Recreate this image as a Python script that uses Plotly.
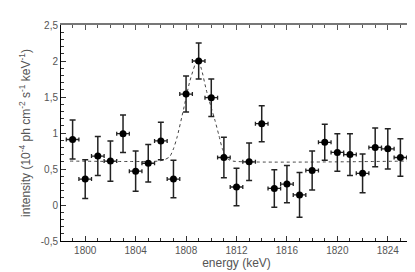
import plotly.graph_objects as go

# data
energy = [1799, 1800, 1801, 1802, 1803, 1804, 1805, 1806, 1807, 1808, 1809, 1810,
          1811, 1812, 1813, 1814, 1815, 1816, 1817, 1818, 1819, 1820, 1821, 1822,
          1823, 1824, 1825]
intensity = [0.91, 0.36, 0.68, 0.61, 0.99, 0.47, 0.58, 0.89, 0.36, 1.54, 2.00, 1.49,
             0.66, 0.25, 0.60, 1.13, 0.23, 0.29, 0.14, 0.48, 0.87, 0.73, 0.70, 0.44,
             0.80, 0.78, 0.66]
err_y = [0.27, 0.27, 0.27, 0.28, 0.26, 0.28, 0.26, 0.26, 0.26, 0.25, 0.25, 0.26,
         0.28, 0.26, 0.26, 0.25, 0.26, 0.26, 0.31, 0.27, 0.25, 0.26, 0.29, 0.27,
         0.27, 0.28, 0.26]
err_x = [0.5] * len(energy)

# dotted fit curve
fit_energy = [1798.8, 1805.8, 1806.3, 1806.7, 1807.0, 1807.3, 1807.8, 1808.3, 1808.9,
              1809.2, 1809.6, 1810.0, 1810.3, 1810.6, 1810.9, 1811.3, 1811.7, 1825.7]
fit_value = [0.61, 0.61, 0.63, 0.67, 0.78, 0.95, 1.33, 1.72, 2.02,
             1.90, 1.60, 1.35, 1.17, 0.97, 0.77, 0.64, 0.61, 0.61]

x_tickvals = [1800, 1804, 1808, 1812, 1816, 1820, 1824]
x_ticktext = ["1800", "1804", "1808", "1812", "1816", "1820", "1824"]
y_tickvals = [-0.5, 0, 0.5, 1, 1.5, 2, 2.5]
y_ticktext = ["-0,5", "0", "0,5", "1", "1,5", "2", "2,5"]

font_family = "Liberation Sans, Arial, sans-serif"

fig = go.Figure()

fig.add_trace(go.Scatter(
    x=fit_energy, y=fit_value, mode="lines",
    line=dict(color="#444444", width=1, dash="dot", shape="spline", smoothing=0.6),
    hoverinfo="skip", showlegend=False,
))

fig.add_trace(go.Scatter(
    x=energy, y=intensity, mode="markers",
    marker=dict(color="black", size=7, symbol="circle"),
    error_y=dict(type="data", array=err_y, color="#222222", thickness=1.5, width=3),
    error_x=dict(type="data", array=err_x, color="#222222", thickness=1.3, width=2),
    showlegend=False,
))

# helper trace for the grey top/right frame axes
fig.add_trace(go.Scatter(x=[1810], y=[1], xaxis="x2", yaxis="y2",
                         mode="markers", marker=dict(opacity=0),
                         hoverinfo="skip", showlegend=False))

xr = [1798.08, 1825.92]
yr = [-0.5, 2.5]

fig.update_layout(
    width=415, height=272,
    margin=dict(l=53, r=11, t=12, b=39),
    paper_bgcolor="white", plot_bgcolor="white",
    font=dict(family=font_family, color="#555555", size=10),
    xaxis=dict(
        range=xr, showgrid=False, zeroline=False,
        showline=True, linecolor="black", linewidth=1,
        ticks="inside", ticklen=5, tickwidth=1, tickcolor="#333333",
        tickvals=x_tickvals, ticktext=x_ticktext,
        tickfont=dict(size=10, color="#555555"),
        minor=dict(dtick=1, tick0=1800, ticks="inside", ticklen=3, tickcolor="#333333"),
        title=dict(text="energy (keV)", font=dict(size=12, color="#555555"), standoff=3),
    ),
    yaxis=dict(
        range=yr, showgrid=False, zeroline=False,
        showline=True, linecolor="black", linewidth=1,
        ticks="inside", ticklen=5, tickwidth=1, tickcolor="#333333",
        tickvals=y_tickvals, ticktext=y_ticktext,
        tickfont=dict(size=10, color="#555555"),
        minor=dict(dtick=0.1, tick0=0, ticks="inside", ticklen=3, tickcolor="#333333"),
        title=dict(text="intensity (10<sup>-4</sup> ph cm<sup>-2</sup> s<sup>-1</sup> keV<sup>-1</sup>)",
                   font=dict(size=12, color="#555555"), standoff=7),
    ),
    xaxis2=dict(
        range=xr, overlaying="x", side="top", showgrid=False, zeroline=False,
        showline=True, linecolor="#777777", linewidth=2,
        ticks="inside", ticklen=5, tickwidth=1, tickcolor="#555555",
        tick0=1800, dtick=4, showticklabels=False,
        minor=dict(dtick=1, tick0=1800, ticks="inside", ticklen=3, tickcolor="#555555"),
    ),
    yaxis2=dict(
        range=yr, overlaying="y", side="right", showgrid=False, zeroline=False,
        showline=True, linecolor="#777777", linewidth=2,
        ticks="inside", ticklen=5, tickwidth=1, tickcolor="#555555",
        tick0=0, dtick=0.5, showticklabels=False,
        minor=dict(dtick=0.1, tick0=0, ticks="inside", ticklen=3, tickcolor="#555555"),
    ),
)

fig.write_html("out.html")
